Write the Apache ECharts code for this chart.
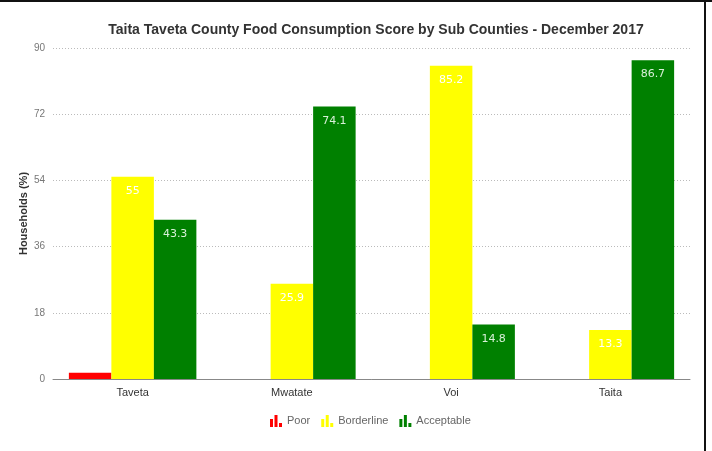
<!DOCTYPE html>
<html>
<head>
<meta charset="utf-8">
<script src="https://cdn.jsdelivr.net/npm/echarts@6/dist/echarts.min.js"></script>
<style>html,body{margin:0;padding:0;background:#fff;}#c{width:712px;height:451px;}</style>
</head>
<body>
<div id="c"></div>
<script>
const categories = ['Taveta', 'Mwatate', 'Voi', 'Taita'];
const poor = [1.7, 0, 0, 0];
const borderline = [55, 25.9, 85.2, 13.3];
const acceptable = [43.3, 74.1, 14.8, 86.7];
const yTicks = [0, 18, 36, 54, 72, 90];

const icon = 'path://M0,4H3V12H0Z M4.5,0H7.5V12H4.5Z M9,8H12V12H9Z';
const chart = echarts.init(document.getElementById('c'));
const lbl = (color) => ({show: true, position: 'insideTop', distance: 9, color: color, fontSize: 11, fontFamily: 'DejaVu Sans'});
chart.setOption({
  backgroundColor: '#fff',
  animation: false,
  title: {
    text: 'Taita Taveta County Food Consumption Score by Sub Counties - December 2017',
    left: 371, textAlign: 'center', top: 18,
    textStyle: {fontFamily: 'Liberation Sans', fontWeight: 'bold', fontSize: 14, color: '#333'}
  },
  legend: {
    bottom: 19, left: 265,
    itemWidth: 12, itemHeight: 12, itemGap: 11,
    textStyle: {fontFamily: 'Liberation Sans', fontSize: 11, color: '#666'},
    data: [{name: 'Poor', icon: icon}, {name: 'Borderline', icon: icon}, {name: 'Acceptable', icon: icon}]
  },
  grid: {left: 53, right: 22, top: 48, bottom: 72},
  xAxis: {
    type: 'category', data: categories,
    axisTick: {show: false},
    axisLine: {lineStyle: {color: '#888', width: 1}},
    axisLabel: {color: '#333', fontFamily: 'Liberation Sans', fontSize: 11, margin: 8}
  },
  yAxis: {
    type: 'value', min: yTicks[0], max: yTicks[yTicks.length - 1], interval: 18,
    name: 'Households (%)', nameLocation: 'middle', nameGap: 24, nameMoveOverlap: false,
    nameTextStyle: {fontFamily: 'Liberation Sans', fontWeight: 'bold', fontSize: 11, color: '#333'},
    axisLabel: {color: '#777', fontFamily: 'Liberation Sans', fontSize: 10, margin: 8},
    splitLine: {lineStyle: {color: '#bbb', type: [1, 2], width: 1}},
    axisLine: {show: false}, axisTick: {show: false}
  },
  series: [
    {name: 'Poor', type: 'bar', data: poor, barWidth: 42.5, barGap: '0%', itemStyle: {color: '#ff0000'}},
    {name: 'Borderline', type: 'bar', data: borderline, barWidth: 42.5, barGap: '0%', itemStyle: {color: '#ffff00'}, label: lbl('#ffffff')},
    {name: 'Acceptable', type: 'bar', data: acceptable, barWidth: 42.5, barGap: '0%', itemStyle: {color: '#008000'}, label: lbl('#d8f0d8')}
  ],
  graphic: [
    {type: 'rect', shape: {x: 0, y: 0, width: 712, height: 2}, style: {fill: '#111'}},
    {type: 'rect', shape: {x: 704, y: 0, width: 2, height: 451}, style: {fill: '#111'}}
  ]
});
</script>
</body>
</html>
